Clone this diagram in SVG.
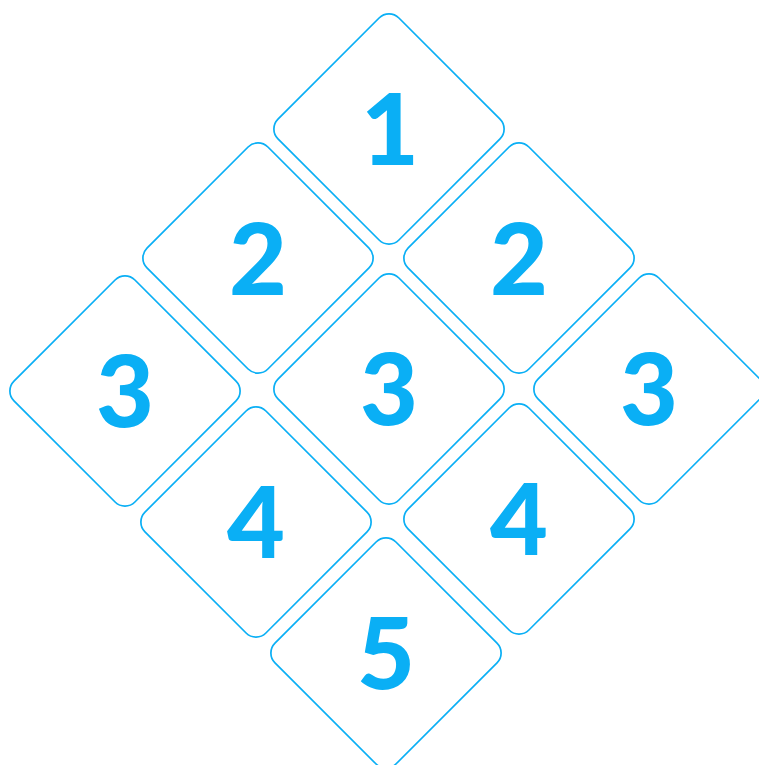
<svg xmlns="http://www.w3.org/2000/svg" width="759" height="765" viewBox="0 0 759 765">
<style>
.d{fill:#fff;stroke:#0aaff5;stroke-width:1.7}
.t{font-family:Lato,"Noto Sans",sans-serif;font-weight:900;font-size:100px;fill:#0aaff5;text-anchor:middle}
</style>
<defs><rect id="sq" x="-85.5" y="-85.5" width="171" height="171" rx="14" transform="rotate(45)"/></defs>
<rect width="759" height="765" fill="#fff"/>
<g id="connectors"/>
<g id="n1" transform="translate(389,129)"><use href="#sq" class="d"/><text class="t" x="1" y="36">1</text></g>
<g id="n2a" transform="translate(258,258)"><use href="#sq" class="d"/><text class="t" y="37">2</text></g>
<g id="n2b" transform="translate(519,258)"><use href="#sq" class="d"/><text class="t" y="37">2</text></g>
<g id="n3a" transform="translate(125,391)"><use href="#sq" class="d"/><text class="t" y="36">3</text></g>
<g id="n3b" transform="translate(389,389)"><use href="#sq" class="d"/><text class="t" y="36">3</text></g>
<g id="n3c" transform="translate(649,389)"><use href="#sq" class="d"/><text class="t" y="36">3</text></g>
<g id="n4a" transform="translate(256,522)"><use href="#sq" class="d"/><text class="t" y="36">4</text></g>
<g id="n4b" transform="translate(519,519)"><use href="#sq" class="d"/><text class="t" y="36">4</text></g>
<g id="n5" transform="translate(386,653)"><use href="#sq" class="d"/><text class="t" y="36">5</text></g>
</svg>
